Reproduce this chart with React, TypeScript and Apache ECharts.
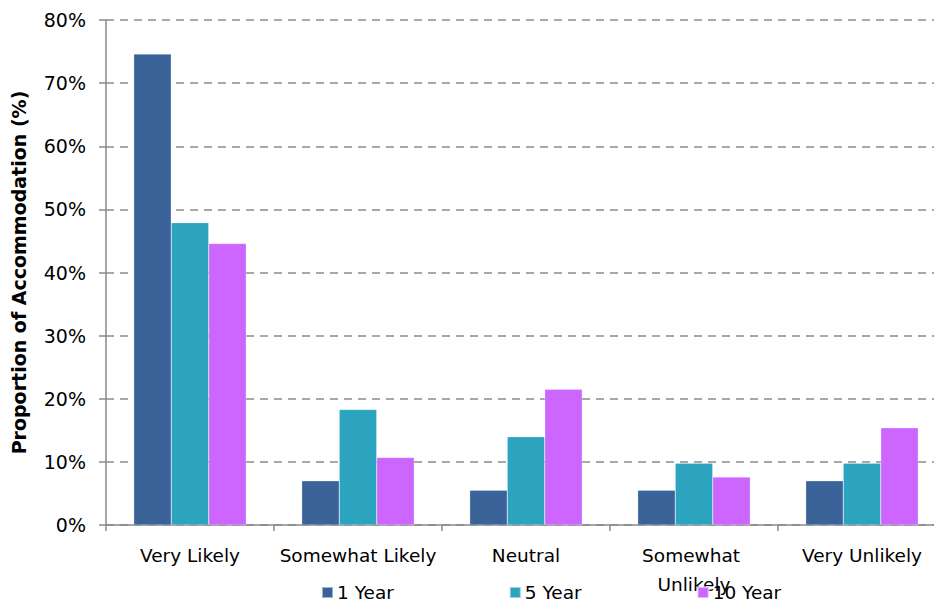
import React, { useEffect, useRef } from "react";
import * as echarts from "echarts";

const categories = ["Very Likely", "Somewhat Likely", "Neutral", "Somewhat Unlikely", "Very Unlikely"];
const seriesNames = ["1 Year", "5 Year", "10 Year"];
const oneYear = [74.6, 7.0, 5.5, 5.5, 7.0];
const fiveYear = [47.9, 18.3, 14.0, 9.8, 9.8];
const tenYear = [44.6, 10.7, 21.5, 7.6, 15.4];
const colors = ["#3A6399", "#2CA3BF", "#CC66FF"];

export default function App() {
  const ref = useRef<HTMLDivElement>(null);
  useEffect(() => {
    document.body.style.margin = "0";
    const chart = echarts.init(ref.current!, null, { renderer: "svg" });
    const font = "DejaVu Sans";
    const values = [oneYear, fiveYear, tenYear];
    chart.setOption({
      animation: false,
      textStyle: { fontFamily: font, color: "#000" },
      grid: { left: 106, top: 20, width: 840, height: 505, containLabel: false },
      legend: {
        data: seriesNames,
        left: 316,
        top: 578,
        itemWidth: 11,
        itemHeight: 11,
        itemGap: 115,
        icon: "rect",
        textStyle: { fontFamily: font, fontSize: 18.5, color: "#000", padding: [0, 0, 0, -1] },
      },
      xAxis: {
        type: "category",
        data: categories,
        axisLine: { lineStyle: { color: "#888", width: 1.5 } },
        axisTick: { show: true, length: 6, lineStyle: { color: "#888", width: 1.5 } },
        axisLabel: {
          interval: 0,
          margin: 16,
          fontFamily: font,
          fontSize: 18.5,
          color: "#000",
          width: 168,
          overflow: "break",
          lineHeight: 29,
        },
      },
      yAxis: {
        type: "value",
        min: 0,
        max: 80,
        interval: 10,
        name: "Proportion of Accommodation (%)",
        nameLocation: "middle",
        nameGap: 78,
        nameTextStyle: { fontFamily: font, fontSize: 19, fontWeight: "bold", color: "#000" },
        axisLine: { show: true, lineStyle: { color: "#888", width: 1.5 } },
        axisTick: { show: true, length: 7, lineStyle: { color: "#888", width: 1.5 } },
        axisLabel: {
          formatter: "{value}%",
          margin: 20,
          fontFamily: font,
          fontSize: 19,
          color: "#000",
        },
        splitLine: {
          lineStyle: { color: "#8c8c8c", type: [8, 6], width: 1.5 },
        },
      },
      series: seriesNames.map((name, i) => ({
        name,
        type: "bar",
        data: values[i],
        barGap: "0%",
        barCategoryGap: "33%",
        itemStyle: { color: colors[i], borderColor: "rgba(255,255,255,0.5)", borderWidth: 0.5 },
      })),
    });
    return () => chart.dispose();
  }, []);
  return (
    <div style={{ width: 934, height: 607, overflow: "hidden", position: "relative" }}>
      <div ref={ref} style={{ width: 970, height: 607 }} />
    </div>
  );
}
